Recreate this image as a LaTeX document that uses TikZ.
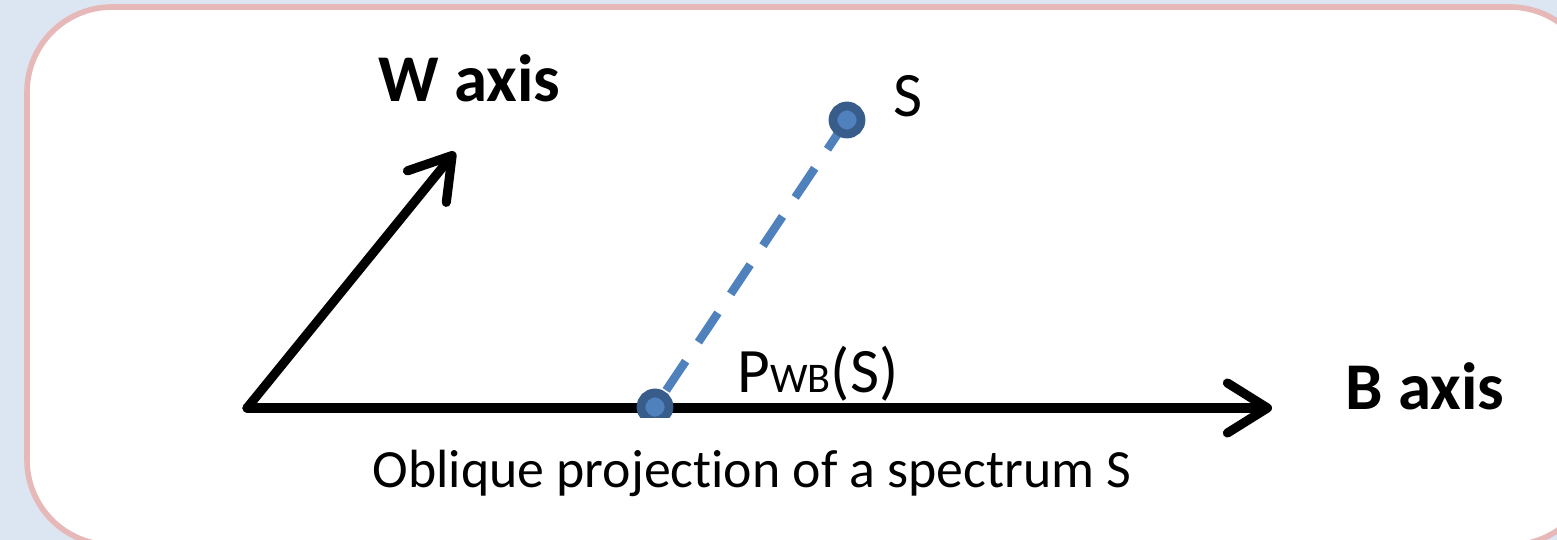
\documentclass[tikz,border=0pt]{standalone}
\usepackage{fontspec}
\setmainfont{Carlito}[Ligatures=NoCommon]
\usepackage{tikz}
\usetikzlibrary{positioning,arrows.meta}
\definecolor{pagebg}{HTML}{DCE6F2}
\definecolor{framepink}{HTML}{E6B9B8}
\definecolor{dotfill}{HTML}{4F81BD}
\definecolor{dotline}{HTML}{385D8A}
\tikzset{
  axisarrow/.style={-{Straight Barb[length=4mm, width=5mm, round]}, line width=2.6pt, line cap=round, line join=round},
  projline/.style={dotfill, line width=2.4pt, dash pattern=on 10pt off 6.5pt},
  pointdot/.style={circle, draw=dotline, fill=dotfill, line width=2.5pt, minimum size=0.28cm, inner sep=0pt},
  axislabel/.style={anchor=base west, inner sep=0pt, font=\fontsize{19}{21}\selectfont\bfseries},
  plainlabel/.style={anchor=base west, inner sep=0pt, font=\fontsize{18}{20}\selectfont}
}
\begin{document}
\begin{tikzpicture}[x=0.01cm, y=-0.01cm]
  \useasboundingbox (0,0) rectangle (1557,540);
  \fill[pagebg] (0,0) rectangle (1557,540);
  \begin{scope}
    \clip (0,0) rectangle (1557,540);
    \draw[framepink, fill=white, line width=1.6pt, rounded corners=0.85cm] (27,7) rectangle (1595,545);
  \end{scope}
  % points and axes
  \coordinate (origin) at (247,408);
  \coordinate (wend) at (455,152);
  \coordinate (bend) at (1272,408);
  \coordinate (s) at (847,120);
  \coordinate (p) at (655,407);
  \draw[projline] (s) -- (p);
  \draw[axisarrow] (origin) -- (wend);
  \draw[axisarrow] (origin) -- (bend);
  \node[pointdot] (sdot) at (s) {};
  \begin{scope}
    \clip (600,370) rectangle (700,418);
    \node[pointdot] (pdot) at (p) {};
  \end{scope}
  % labels
  \node[axislabel] (wlabel) at (378,102) {W axis};
  \node[axislabel] (blabel) at (1345,410) {B axis};
  \node[plainlabel] (slabel) at (893,117) {S};
  \node[plainlabel] (plabel) at (737,393) {P{\fontsize{12}{14}\selectfont WB}(S)};
  \node[plainlabel, font=\fontsize{15.3}{17}\selectfont] (caption) at (372,488) {Oblique projection of a spectrum S};
\end{tikzpicture}
\end{document}
